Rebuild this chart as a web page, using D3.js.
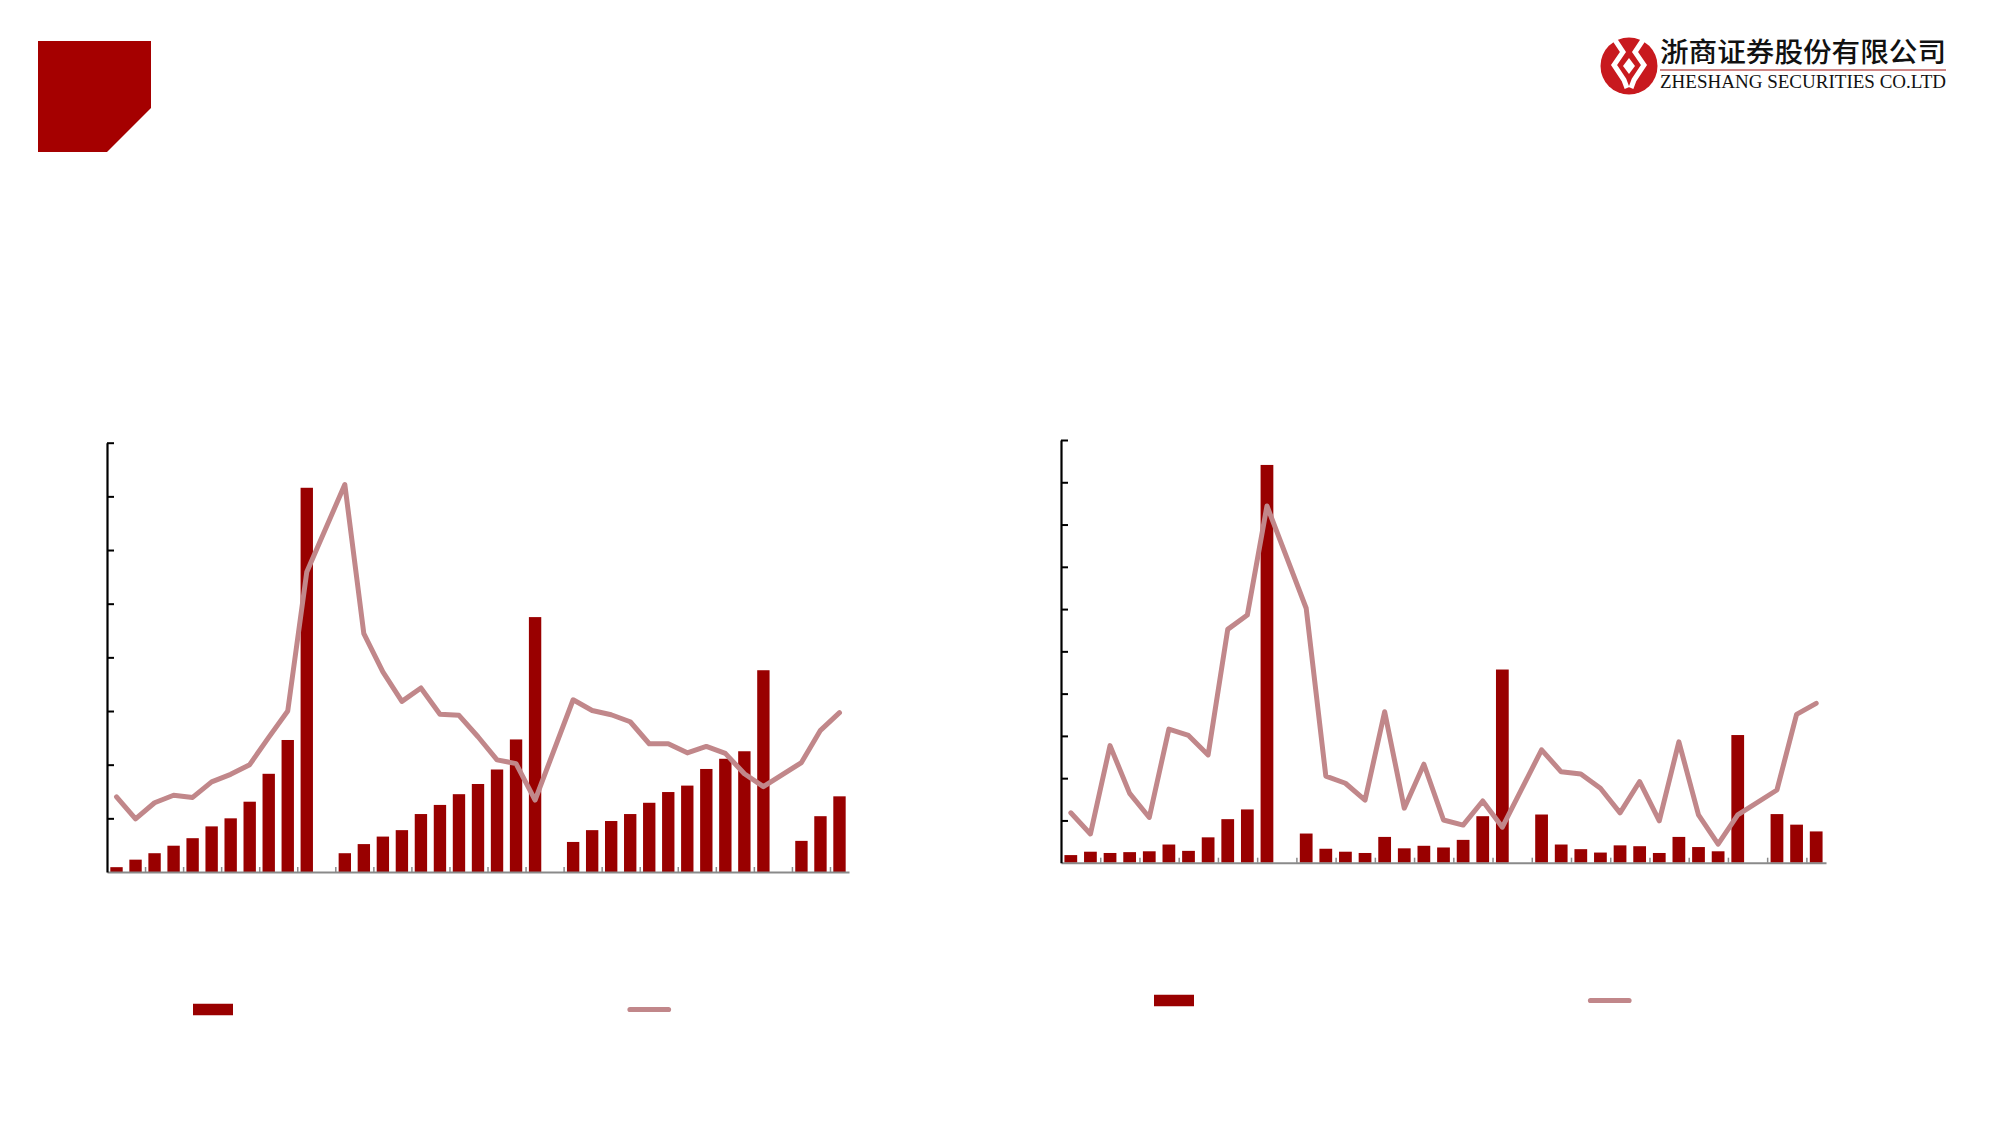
<!DOCTYPE html>
<html>
<head>
<meta charset="utf-8">
<script src="https://cdn.jsdelivr.net/npm/d3@7"></script>
<style>
html,body{margin:0;padding:0;background:#fff;}
svg{display:block;}
</style>
</head>
<body>
<script>
// ---------- data ----------
// 39 monthly slots per chart; null = no observation (gap slot)
const categories = d3.range(39).map(i => "M" + (i + 1));
const xTickSlots = [2,4,6,8,10,12,14,16,18,20,22,24,26,28,30,32,34,36,38];

// left chart (values in grid units, 0..8)
const leftBars = [0.09,0.23,0.35,0.49,0.63,0.85,1.00,1.31,1.83,2.46,7.16,null,
  0.35,0.52,0.66,0.78,1.08,1.25,1.45,1.64,1.91,2.47,4.75,null,
  0.56,0.78,0.95,1.08,1.29,1.49,1.61,1.92,2.11,2.25,3.76,null,
  0.58,1.04,1.41];
const leftLine = [1.40,0.99,1.29,1.43,1.39,1.68,1.82,2.00,2.51,3.00,5.59,null,
  7.22,4.44,3.73,3.18,3.43,2.94,2.92,2.52,2.09,2.02,1.34,null,
  3.21,3.01,2.93,2.80,2.39,2.39,2.22,2.34,2.21,1.83,1.59,null,
  2.04,2.64,2.97];
const leftYTicks = [0,1,2,3,4,5,6,7,8];

// right chart (values in grid units, 0..10)
const rightBars = [0.18,0.26,0.23,0.25,0.27,0.43,0.28,0.60,1.03,1.26,9.41,null,
  0.69,0.33,0.26,0.23,0.61,0.34,0.40,0.36,0.54,1.10,4.57,null,
  1.14,0.43,0.32,0.24,0.41,0.39,0.23,0.61,0.37,0.27,3.02,null,
  1.15,0.90,0.74];
const rightLine = [1.18,0.68,2.77,1.64,1.07,3.16,3.01,2.55,5.52,5.86,8.44,null,
  6.02,2.05,1.88,1.48,3.57,1.29,2.33,1.01,0.89,1.46,0.84,null,
  2.67,2.15,2.10,1.76,1.18,1.92,0.99,2.86,1.13,0.44,1.13,null,
  1.72,3.51,3.77];
const rightYTicks = [0,1,2,3,4,5,6,7,8,9,10];

// ---------- styles ----------
const BAR = "#990000";
const LINE = "#C1878A";
const RED = "#A50000";

const svg = d3.select("body").append("svg")
  .attr("width", 2000).attr("height", 1125);

// top-left corner badge
svg.append("path")
  .attr("d", "M38,41 L151,41 L151,108 L107,152 L38,152 Z")
  .attr("fill", RED);

// logo
const logo = svg.append("g");
logo.append("circle").attr("cx", 1629).attr("cy", 66).attr("r", 28.5).attr("fill", "#C8191E");
const sym = logo.append("g").attr("fill", "none").attr("stroke", "#fff")
  .attr("stroke-width", 5).attr("stroke-linejoin", "miter").attr("stroke-linecap", "butt");
sym.append("path").attr("d", "M1615,40 L1623,52 L1614,65 L1624,80 L1627,88");
sym.append("path").attr("d", "M1643,40 L1635,52 L1644,65 L1634,80 L1631,88");
logo.append("path").attr("d", "M1629,58 L1635,66 L1629,74 L1623,66 Z").attr("fill", "#fff");
logo.append("text")
  .attr("x", 1660).attr("y", 62)
  .attr("font-family", "'Noto Sans CJK SC'")
  .attr("font-weight", 500)
  .attr("font-size", 27.5)
  .attr("textLength", 286).attr("lengthAdjust", "spacingAndGlyphs")
  .attr("fill", "#111")
  .text("浙商证券股份有限公司");
logo.append("line").attr("x1", 1660).attr("x2", 1946).attr("y1", 70).attr("y2", 70)
  .attr("stroke", "#A01010").attr("stroke-width", 1.2);
logo.append("text")
  .attr("x", 1660).attr("y", 88)
  .attr("font-family", "'Liberation Serif'")
  .attr("font-size", 19)
  .attr("textLength", 286).attr("lengthAdjust", "spacingAndGlyphs")
  .attr("fill", "#111")
  .text("ZHESHANG SECURITIES CO.LTD");

// ---------- chart builder ----------
function drawChart(opt) {
  const g = svg.append("g");
  const x = d3.scaleBand().domain(categories)
    .range([opt.x0, opt.x1]).paddingInner(0.35).paddingOuter(0.175);
  const xEdge = d3.scaleLinear().domain([0, categories.length]).range([opt.x0, opt.x1]);
  const y = d3.scaleLinear().domain([0, opt.yMax]).range([opt.y0, opt.y1]);

  // bars
  g.append("g").selectAll("rect")
    .data(opt.bars.map((v, i) => ({c: categories[i], v})).filter(d => d.v != null))
    .join("rect")
    .attr("x", d => x(d.c))
    .attr("width", x.bandwidth())
    .attr("y", d => y(d.v))
    .attr("height", d => y(0) - y(d.v))
    .attr("fill", BAR);

  // line (gaps connected)
  const pts = opt.line.map((v, i) => ({c: categories[i], v})).filter(d => d.v != null);
  g.append("path")
    .datum(pts)
    .attr("fill", "none")
    .attr("stroke", LINE)
    .attr("stroke-width", 5)
    .attr("stroke-linejoin", "round")
    .attr("stroke-linecap", "round")
    .attr("d", d3.line().x(d => x(d.c) + x.bandwidth() / 2).y(d => y(d.v)));

  // x axis
  const xa = g.append("g").attr("transform", `translate(0,${opt.y0})`)
    .call(d3.axisBottom(xEdge).tickValues(xTickSlots).tickSizeInner(-5).tickSizeOuter(0).tickFormat(""));
  xa.select(".domain").attr("stroke", "#8A8A8A").attr("stroke-width", 2);
  xa.selectAll(".tick line").attr("stroke", "#8A8A8A").attr("stroke-width", 1.5);

  // y axis
  const ya = g.append("g").attr("transform", `translate(${opt.x0},0)`)
    .call(d3.axisLeft(y).tickValues(opt.yTicks).tickSizeInner(-7).tickSizeOuter(0).tickFormat(""));
  ya.select(".domain").attr("stroke", "#000").attr("stroke-width", 2.2);
  ya.selectAll(".tick line").attr("stroke", "#000").attr("stroke-width", 2);
  ya.selectAll(".tick").filter(d => d === 0).remove();

  // legend
  g.append("rect").attr("x", opt.lgBarX).attr("y", opt.lgY - 5.75)
    .attr("width", 40).attr("height", 11.5).attr("fill", BAR);
  g.append("line").attr("x1", opt.lgLineX + 2.5).attr("x2", opt.lgLineX + 41)
    .attr("y1", opt.lgY).attr("y2", opt.lgY)
    .attr("stroke", LINE).attr("stroke-width", 5.2).attr("stroke-linecap", "round");
}

drawChart({x0: 107, x1: 849, y0: 872, y1: 442.7, yMax: 8, yTicks: leftYTicks,
  bars: leftBars, line: leftLine, lgBarX: 193, lgLineX: 627.5, lgY: 1009.5});
drawChart({x0: 1061, x1: 1826, y0: 862.7, y1: 440, yMax: 10, yTicks: rightYTicks,
  bars: rightBars, line: rightLine, lgBarX: 1154, lgLineX: 1588, lgY: 1000.5});
</script>
</body>
</html>
